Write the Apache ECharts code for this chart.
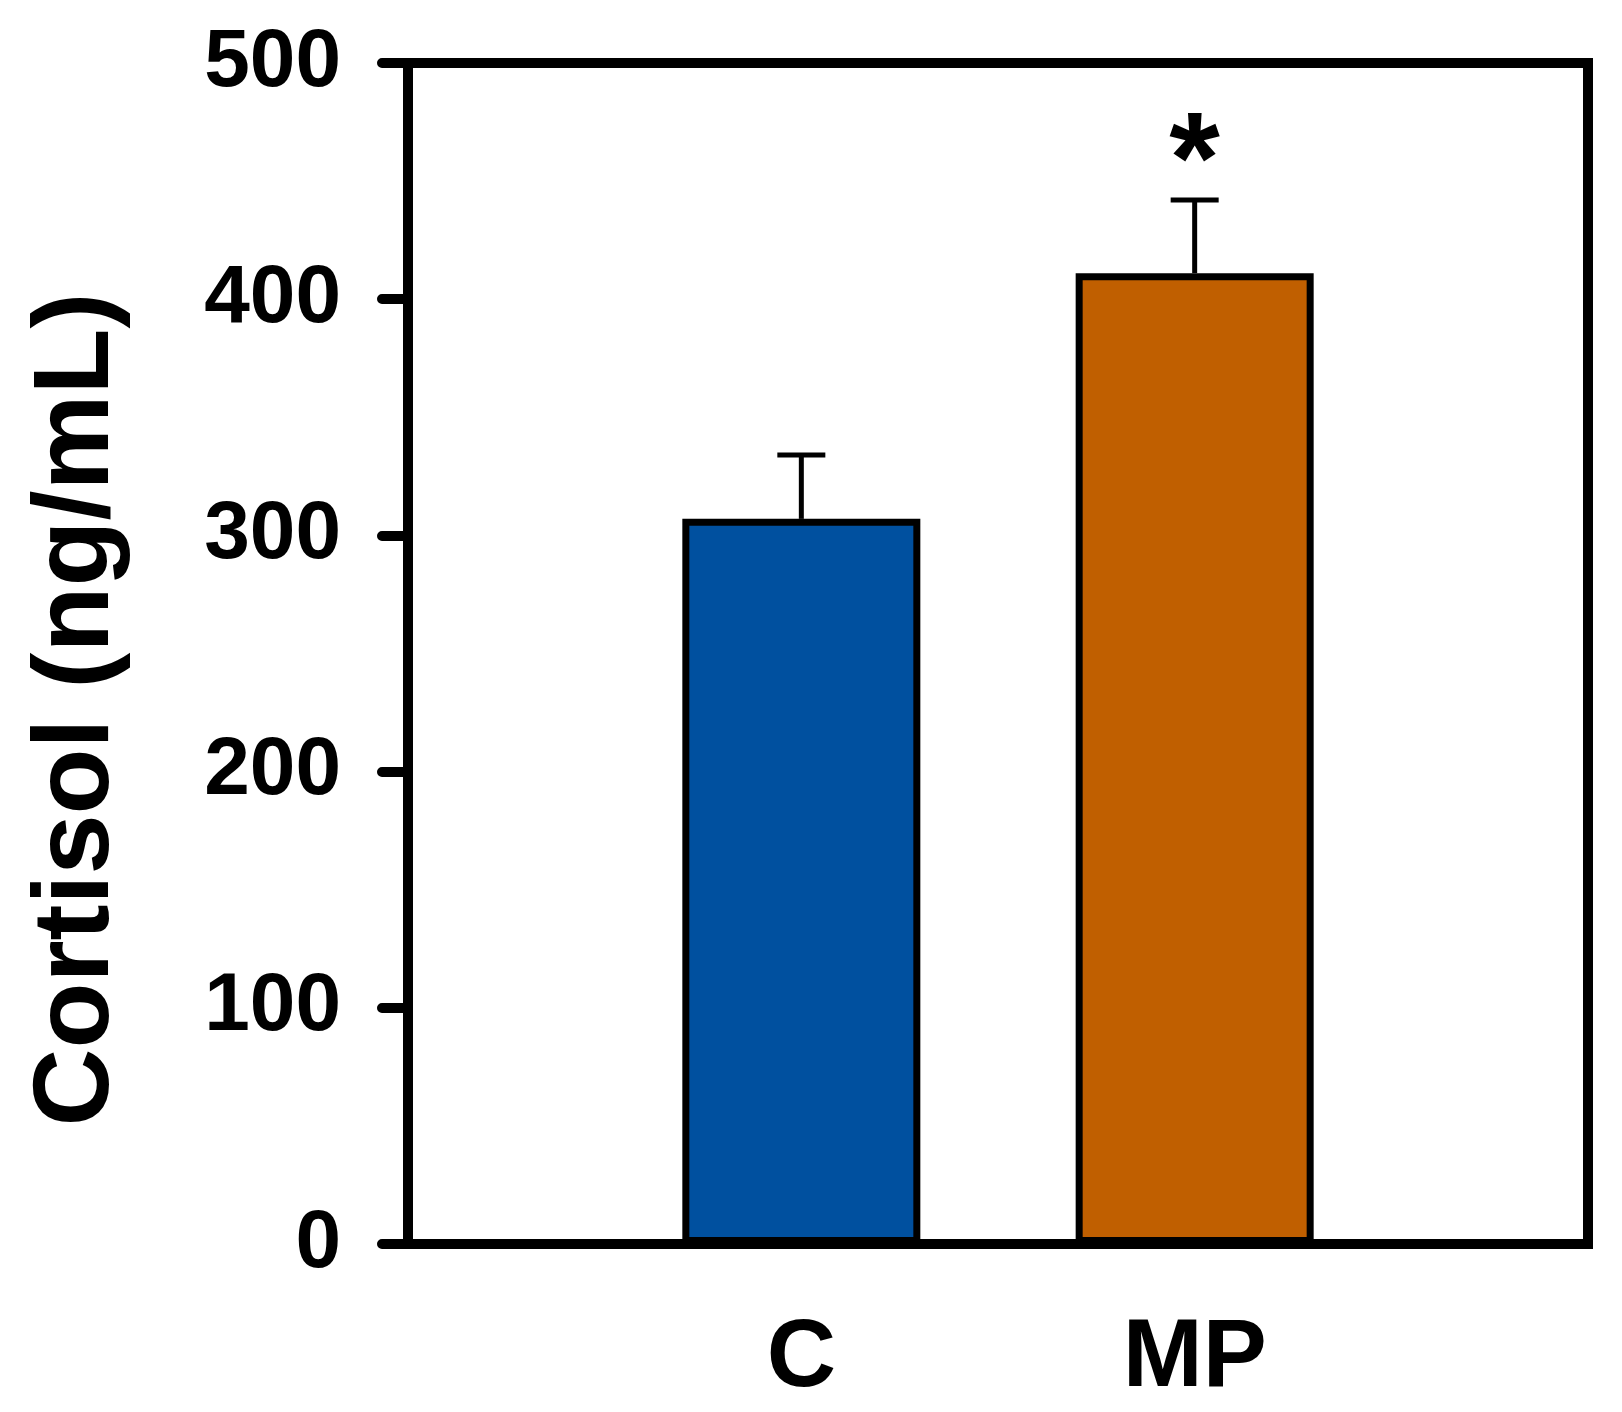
<!DOCTYPE html>
<html>
<head>
<meta charset="utf-8">
<script src="https://cdn.jsdelivr.net/npm/echarts@6/dist/echarts.min.js"></script>
<style>
    html, body { margin: 0; padding: 0; background: #fff; }
    #chart { width: 1622px; height: 1412px; }
</style>
</head>
<body>
<div id="chart"></div>
<script>
// groups on the x axis (empty slots keep the bars at 1/3 and 2/3)
var categories = ['', 'C', 'MP', ''];
var cortisol = ['-', 307, 411, '-'];
var sem = [0, 27, 31, 0];
var marks = ['', '', '*', ''];
var barColors = ['#fff', '#00509F', '#C05F00', '#fff'];
var yTicks = [0, 100, 200, 300, 400, 500];

var font = 'Liberation Sans, Arial, sans-serif';

var errData = [];
for (var i = 0; i < categories.length; i++) {
    if (cortisol[i] === '-') continue;
    errData.push([i, cortisol[i], cortisol[i] + sem[i], marks[i]]);
}

var option = {
    animation: false,
    backgroundColor: '#fff',
    grid: {
        left: 408,
        right: 34,
        top: 63,
        bottom: 168,
        show: true,
        borderColor: '#000',
        borderWidth: 10
    },
    xAxis: {
        type: 'category',
        data: categories,
        boundaryGap: false,
        axisLine: { lineStyle: { color: '#000', width: 10 } },
        axisTick: { show: false },
        splitLine: { show: false },
        axisLabel: {
            margin: 68,
            color: '#000',
            fontFamily: font,
            fontWeight: 'bold',
            fontSize: 96
        }
    },
    yAxis: {
        type: 'value',
        min: yTicks[0],
        max: yTicks[yTicks.length - 1],
        interval: 100,
        name: 'Cortisol (ng/mL)',
        nameLocation: 'middle',
        nameGap: 276,
        nameTextStyle: {
            color: '#000',
            fontFamily: font,
            fontWeight: 'bold',
            fontSize: 108,
            padding: [0, 112, 0, 0]
        },
        axisLine: { show: true, lineStyle: { color: '#000', width: 10 } },
        axisTick: { show: true, inside: false, length: 26, lineStyle: { color: '#000', width: 10, cap: 'round' } },
        splitLine: { show: false },
        axisLabel: {
            margin: 67,
            color: '#000',
            fontFamily: font,
            fontWeight: 'bold',
            fontSize: 82
        }
    },
    series: [
        {
            type: 'bar',
            data: cortisol,
            barWidth: 238,
            itemStyle: {
                color: function (p) { return barColors[p.dataIndex]; },
                borderColor: '#000',
                borderWidth: 7
            },
            z: 2
        },
        {
            type: 'custom',
            data: errData,
            z: 1,
            renderItem: function (params, api) {
                var base = api.coord([api.value(0), api.value(1)]);
                var top = api.coord([api.value(0), api.value(2)]);
                var half = 24;
                var children = [
                    { type: 'line', shape: { x1: base[0], y1: base[1], x2: top[0], y2: top[1] },
                      style: { stroke: '#000', lineWidth: 5 } },
                    { type: 'line', shape: { x1: top[0] - half, y1: top[1], x2: top[0] + half, y2: top[1] },
                      style: { stroke: '#000', lineWidth: 5 } }
                ];
                var mark = errData[params.dataIndex][3];
                if (mark) {
                    children.push({
                        type: 'text',
                        style: {
                            text: mark, x: top[0], y: top[1] - 33,
                            textAlign: 'center', textVerticalAlign: 'middle',
                            fill: '#000', font: 'bold 130px ' + font
                        }
                    });
                }
                return { type: 'group', children: children };
            }
        }
    ]
};

var myChart = echarts.init(document.getElementById('chart'));
myChart.setOption(option);
</script>
</body>
</html>
